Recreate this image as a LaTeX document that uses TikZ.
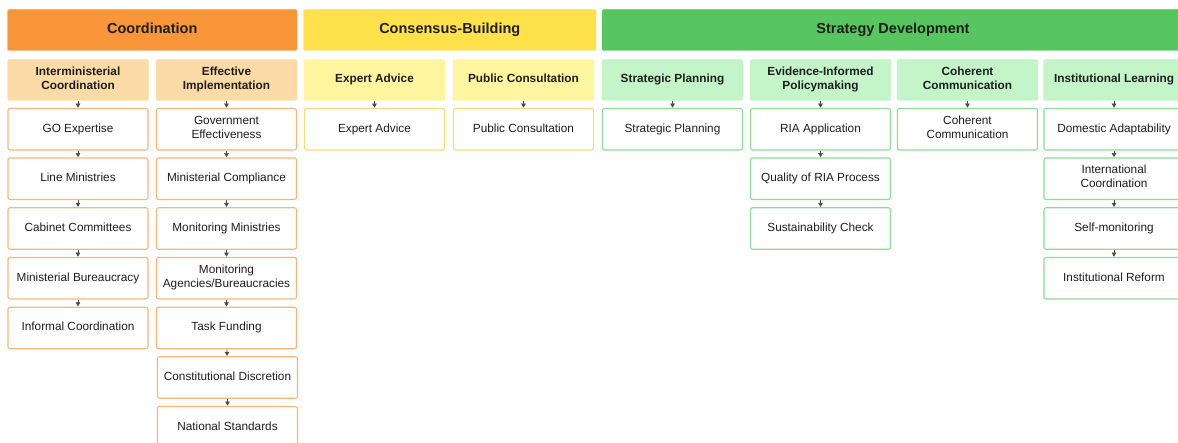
\documentclass[tikz,border=0pt]{standalone}
\usepackage{fontspec}
\setmainfont{Liberation Sans}
\usetikzlibrary{arrows.meta}
\definecolor{orBar}{HTML}{F9963A}
\definecolor{orSub}{HTML}{FDDBA6}
\definecolor{orLine}{HTML}{F9B67A}
\definecolor{yeBar}{HTML}{FFE14C}
\definecolor{yeSub}{HTML}{FFF59E}
\definecolor{yeLine}{HTML}{F8DB74}
\definecolor{grBar}{HTML}{57C660}
\definecolor{grSub}{HTML}{C3F5C9}
\definecolor{grLine}{HTML}{8FDA98}
\definecolor{txt}{HTML}{1E1E1E}
\definecolor{arr}{HTML}{4A4A4A}
\tikzset{
  struts/.style={execute at begin node=\strut, execute at end node=\strut},
  bar/.style={struts, fill=#1, draw=#1, rounded corners=2pt, minimum height=41pt, inner sep=0pt,
    text=txt, font=\fontsize{14.5}{17}\selectfont\bfseries},
  sub/.style={struts, fill=#1, draw=#1, rounded corners=2pt, minimum width=141pt, minimum height=41pt,
    inner sep=0pt, align=center, text=txt, font=\fontsize{11.8}{14}\selectfont\bfseries},
  box/.style={struts, fill=white, draw=#1, line width=1.1pt, rounded corners=2pt, minimum width=140pt,
    minimum height=41.5pt, inner sep=0pt, align=center, text=txt, font=\fontsize{11.8}{14}\selectfont},
  link/.style={draw=arr, line width=0.6pt, -{Triangle[width=4.5pt,length=4pt]}, shorten >=0.3pt}
}
\begin{document}
\begin{tikzpicture}[x=1pt,y=-1pt]
\useasboundingbox (0,0) rectangle (1178,443);
\clip (0,0) rectangle (1178,443);
% top bars
\node[bar=orBar, minimum width=289.5pt] (bC) at (152.25,30) {Coordination};
\node[bar=yeBar, minimum width=292.5pt] (bB) at (449.75,30) {Consensus-Building};
\node[bar=grBar, minimum width=582pt] (bS) at (893,30) {Strategy Development};
% sub headers
\node[sub=orSub] (h1) at (78,80) {Interministerial\\Coordination};
\node[sub=orSub] (h2) at (226.5,80) {Effective\\Implementation};
\node[sub=yeSub] (h3) at (374.5,80) {Expert Advice};
\node[sub=yeSub] (h4) at (523.5,80) {Public Consultation};
\node[sub=grSub] (h5) at (672.5,80) {Strategic Planning};
\node[sub=grSub] (h6) at (820.5,80) {Evidence-Informed\\Policymaking};
\node[sub=grSub] (h7) at (967.5,80) {Coherent\\Communication};
\node[sub=grSub] (h8) at (1114,80) {Institutional Learning};
% column 1
\node[box=orLine] (a1) at (78,129.25) {GO Expertise};
\node[box=orLine] (a2) at (78,178.75) {Line Ministries};
\node[box=orLine] (a3) at (78,228.5) {Cabinet Committees};
\node[box=orLine] (a4) at (78,278.25) {Ministerial Bureaucracy};
\node[box=orLine] (a5) at (78,328) {Informal Coordination};
\draw[link] (h1) -- (a1);
\draw[link] (a1) -- (a2);
\draw[link] (a2) -- (a3);
\draw[link] (a3) -- (a4);
\draw[link] (a4) -- (a5);
% column 2
\node[box=orLine] (b1) at (226.5,129.25) {Government\\Effectiveness};
\node[box=orLine] (b2) at (226.5,178.75) {Ministerial Compliance};
\node[box=orLine] (b3) at (226.5,228.5) {Monitoring Ministries};
\node[box=orLine] (b4) at (226.5,278.25) {Monitoring\\Agencies/Bureaucracies};
\node[box=orLine] (b5) at (226.5,328) {Task Funding};
\node[box=orLine] (b6) at (227.5,377.5) {Constitutional Discretion};
\node[box=orLine] (b7) at (227.5,427.25) {National Standards};
\draw[link] (h2) -- (b1);
\draw[link] (b1) -- (b2);
\draw[link] (b2) -- (b3);
\draw[link] (b3) -- (b4);
\draw[link] (b4) -- (b5);
\draw[link] (b5) -- (b6);
\draw[link] (b6) -- (b7);
% column 3,4
\node[box=yeLine] (c1) at (374.5,129.25) {Expert Advice};
\draw[link] (h3) -- (c1);
\node[box=yeLine] (d1) at (523.5,129.25) {Public Consultation};
\draw[link] (h4) -- (d1);
% column 5
\node[box=grLine] (e1) at (672.5,129.25) {Strategic Planning};
\draw[link] (h5) -- (e1);
% column 6
\node[box=grLine] (f1) at (820.5,129.25) {RIA Application};
\node[box=grLine] (f2) at (820.5,178.75) {Quality of RIA Process};
\node[box=grLine] (f3) at (820.5,228.5) {Sustainability Check};
\draw[link] (h6) -- (f1);
\draw[link] (f1) -- (f2);
\draw[link] (f2) -- (f3);
% column 7
\node[box=grLine] (g1) at (967.5,129.25) {Coherent\\Communication};
\draw[link] (h7) -- (g1);
% column 8
\node[box=grLine] (k1) at (1114,129.25) {Domestic Adaptability};
\node[box=grLine] (k2) at (1114,178.75) {International\\Coordination};
\node[box=grLine] (k3) at (1114,228.5) {Self-monitoring};
\node[box=grLine] (k4) at (1114,278.25) {Institutional Reform};
\draw[link] (h8) -- (k1);
\draw[link] (k1) -- (k2);
\draw[link] (k2) -- (k3);
\draw[link] (k3) -- (k4);
\end{tikzpicture}
\end{document}
